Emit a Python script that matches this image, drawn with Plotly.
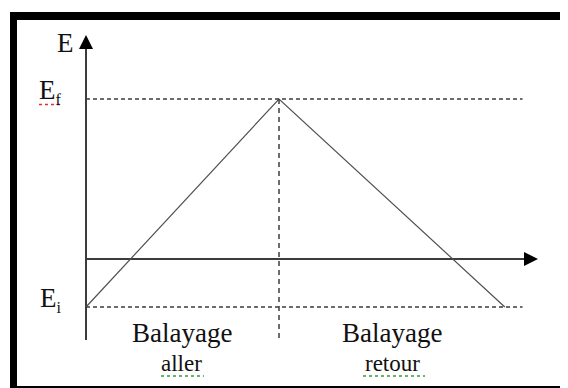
import plotly.graph_objects as go

# ---- data (time in arbitrary units, potential in arbitrary units) ----
sweep_t = [0.0, 1.0, 2.17]          # start, vertex, end of the triangular sweep
sweep_E = [-0.3, 1.0, -0.3]         # Ei -> Ef -> Ei
E_i = -0.3
E_f = 1.0
t_vertex = 1.0
t_axis_max = 2.342
E_axis_max = 1.40
E_axis_min = -0.506
guide_t_end = 2.262
vertex_guide_bottom = -0.494

axis_label = "E"
level_labels = ["E<sub><span style='font-size:16px'>i</span></sub>",
                "E<sub><span style='font-size:16px'>f</span></sub>"]
level_values = [E_i, E_f]
phase_titles = ["Balayage", "Balayage"]
phase_words = ["aller", "retour"]
phase_centers = [0.497, 1.588]

# page has an 8px body margin: the figure is drawn 8px right/down
OFF = 8
W, H = 560, 380
FONT = "Liberation Serif"
LINE = "#3c3c3c"

fig = go.Figure()

# axes
fig.add_trace(go.Scatter(x=[0, 0], y=[E_axis_min, E_axis_max - 0.05], mode="lines",
                         line=dict(color=LINE, width=2), hoverinfo="skip"))
fig.add_trace(go.Scatter(x=[0, t_axis_max - 0.05], y=[0, 0], mode="lines",
                         line=dict(color=LINE, width=2), hoverinfo="skip"))
fig.add_trace(go.Scatter(x=[0], y=[E_axis_max], mode="markers",
                         marker=dict(symbol="arrow-up", size=14, color="black",
                                     line=dict(width=0)), hoverinfo="skip"))
fig.add_trace(go.Scatter(x=[t_axis_max], y=[0], mode="markers",
                         marker=dict(symbol="arrow-right", size=14, color="black",
                                     line=dict(width=0)), hoverinfo="skip"))

# triangular sweep
fig.add_trace(go.Scatter(x=sweep_t, y=sweep_E, mode="lines",
                         line=dict(color="#505050", width=1.2), hoverinfo="skip"))
# dashed guides at Ef and Ei
for lvl in level_values:
    fig.add_trace(go.Scatter(x=[0, guide_t_end], y=[lvl, lvl], mode="lines",
                             line=dict(color=LINE, width=1.5, dash="4px,3px"),
                             hoverinfo="skip"))
# vertical dashed guide at the vertex
fig.add_trace(go.Scatter(x=[t_vertex, t_vertex], y=[E_f, vertex_guide_bottom], mode="lines",
                         line=dict(color=LINE, width=1.5, dash="5px,4px"),
                         hoverinfo="skip"))

annotations = []
annotations.append(dict(x=-0.05, y=1.353, text=axis_label, showarrow=False,
                        xanchor="right", yanchor="middle",
                        font=dict(family=FONT, size=27, color="#111")))
for lab, val in zip(level_labels, level_values):
    annotations.append(dict(x=-0.115, y=val + 0.05, text=lab, showarrow=False,
                            xanchor="right", yanchor="middle",
                            font=dict(family=FONT, size=27, color="#111")))
for tc, ttl, wd in zip(phase_centers, phase_titles, phase_words):
    annotations.append(dict(x=tc, y=-0.4625, text=ttl, showarrow=False,
                            xanchor="center", yanchor="middle",
                            font=dict(family=FONT, size=27, color="#111")))
    annotations.append(dict(x=tc, y=-0.655, text=wd, showarrow=False,
                            xanchor="center", yanchor="middle",
                            font=dict(family=FONT, size=23, color="#111")))


def px(x):
    return (x - OFF) / W


def py(y):
    return 1 - (y - OFF) / H


shapes = [
    # black frame (top, left, bottom)
    dict(type="rect", xref="paper", yref="paper", x0=px(10), x1=px(568), y0=py(20), y1=py(12),
         fillcolor="black", line=dict(width=0)),
    dict(type="rect", xref="paper", yref="paper", x0=px(10), x1=px(17), y0=py(388), y1=py(12),
         fillcolor="black", line=dict(width=0)),
    dict(type="rect", xref="paper", yref="paper", x0=px(10), x1=px(568), y0=py(388), y1=py(386),
         fillcolor="black", line=dict(width=0)),
    # spell-check squiggles
    dict(type="line", xref="paper", yref="paper", x0=px(39), x1=px(63), y0=py(104.5), y1=py(104.5),
         line=dict(color="#e03030", width=1.5, dash="dot")),
    dict(type="line", xref="paper", yref="paper", x0=px(161), x1=px(204), y0=py(376), y1=py(376),
         line=dict(color="#3a9a3a", width=1.5, dash="dot")),
    dict(type="line", xref="paper", yref="paper", x0=px(363), x1=px(425), y0=py(376), y1=py(376),
         line=dict(color="#3a9a3a", width=1.5, dash="dot")),
]

fig.update_layout(
    width=W, height=H, margin=dict(l=0, r=0, t=0, b=0),
    paper_bgcolor="white", plot_bgcolor="white", showlegend=False,
    xaxis=dict(range=[(OFF - 86) / 193, (568 - 86) / 193], visible=False, fixedrange=True),
    yaxis=dict(range=[(259 - 388) / 160, (259 - OFF) / 160], visible=False, fixedrange=True),
    annotations=annotations, shapes=shapes,
)

fig.write_html("out.html")
